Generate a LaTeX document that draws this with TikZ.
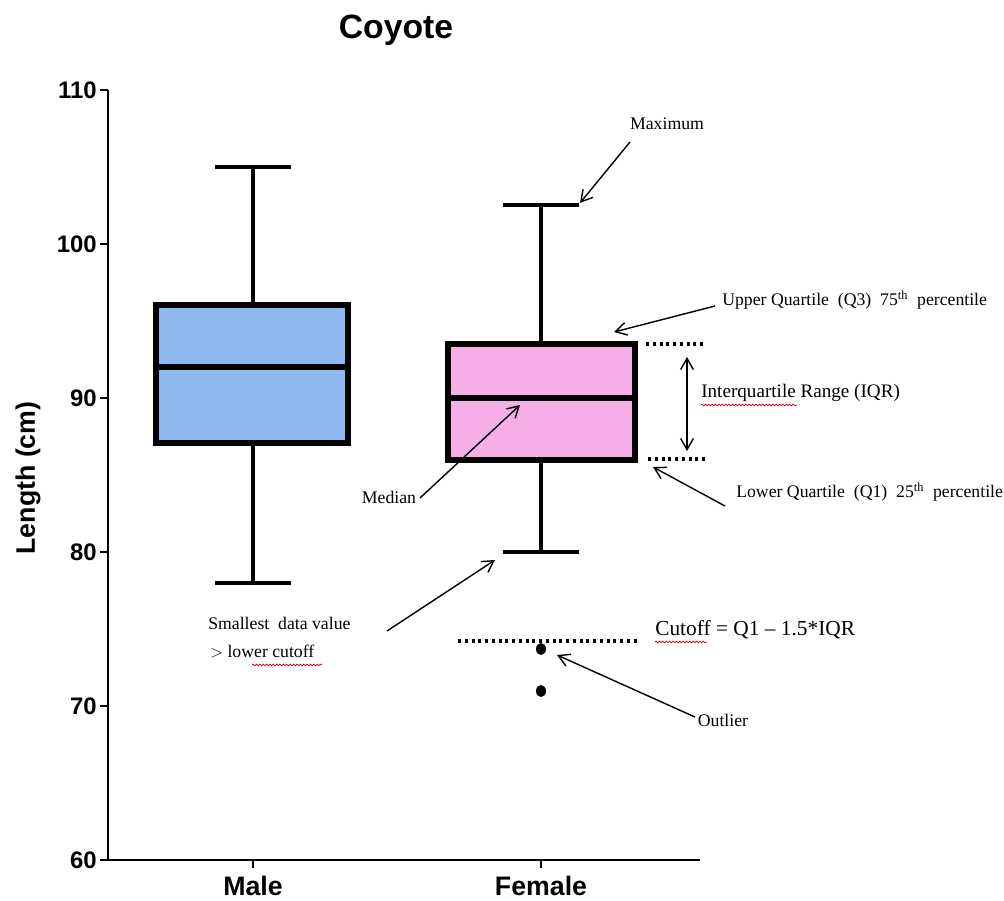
\documentclass[tikz,border=0pt]{standalone}
\usepackage{fontspec}
\setmainfont{Liberation Serif}
\setsansfont{Liberation Sans}
\usetikzlibrary{arrows.meta, decorations.pathmorphing}
\definecolor{maleblue}{RGB}{141, 184, 240}
\definecolor{femalepink}{RGB}{245, 174, 230}

\begin{document}
\begin{tikzpicture}[x=0.025cm, y=-0.025cm,
    box/.style={line width=3.6pt},
    whisker/.style={line width=3.2pt},
    axisline/.style={line width=2pt},
    ticklabel/.style={font=\sffamily\bfseries\fontsize{17}{17}\selectfont, anchor=east, inner sep=0pt},
    grouplabel/.style={font=\sffamily\bfseries\fontsize{19}{19}\selectfont, inner sep=0pt},
    note/.style={font=\fontsize{12.6}{14}\selectfont, inner sep=0pt},
    pointer/.style={-{Straight Barb[length=2.8mm, width=3.2mm]}, line width=1pt},
    cutline/.style={line width=2.4pt, dash pattern=on 2.2pt off 2.6pt},
    squiggle/.style={red!80!black, line width=0.5pt, decorate,
                     decoration={snake, amplitude=0.6pt, segment length=2.4pt}},
]
    \useasboundingbox (0,0) rectangle (1004,900);

    % Titel und Achsen
    \node[font=\sffamily\bfseries\fontsize{24}{24}\selectfont] (title) at (396,30) {Coyote};
    \node[font=\sffamily\bfseries\fontsize{19}{19}\selectfont, rotate=90] (ylabel) at (28,478) {Length (cm)};

    \draw[axisline] (108,90) -- (108,860) -- (700,860);
    \foreach \val/\ypos in {110/90, 100/244, 90/398, 80/552, 70/706, 60/860} {
        \draw[axisline] (100,\ypos) -- (108,\ypos);
        \node[ticklabel] at (97,\ypos) {\val};
    }
    \draw[axisline] (253,860) -- (253,868);
    \draw[axisline] (541,860) -- (541,868);
    \node[grouplabel] (male) at (253,886) {Male};
    \node[grouplabel] (female) at (541,886) {Female};

    % Male
    \draw[whisker] (253,167) -- (253,305);
    \draw[whisker] (253,443) -- (253,583);
    \draw[whisker] (215,167) -- (291,167);
    \draw[whisker] (215,583) -- (291,583);
    \draw[box, fill=maleblue] (156,305) rectangle (348,443);
    \draw[box] (156,367) -- (348,367);

    % Female
    \draw[whisker] (541,205) -- (541,344);
    \draw[whisker] (541,460) -- (541,552);
    \draw[whisker] (503,205) -- (579,205);
    \draw[whisker] (503,552) -- (579,552);
    \draw[box, fill=femalepink] (448,344) rectangle (635,460);
    \draw[box] (448,398) -- (635,398);
    \fill (541,649) ellipse (5 and 6);
    \fill (541,691) ellipse (5 and 6);

    % Hilfslinien
    \draw[cutline] (646,344) -- (706,344);
    \draw[cutline] (648,459) -- (708,459);
    \draw[cutline] (458,641) -- (637,641);
    \draw[{Straight Barb[length=2.8mm, width=3.2mm]}-{Straight Barb[length=2.8mm, width=3.2mm]}, line width=1pt]
        (687,357) -- (687,451);

    % Beschriftungen
    \node[note] (maxlbl) at (667,124) {Maximum};
    \node[note, anchor=west] (q3lbl) at (722,300) {Upper Quartile\ \ (Q3)\ \ 75\textsuperscript{th}\ \ percentile};
    \node[note, anchor=west, font=\fontsize{13.6}{15}\selectfont] (iqrlbl) at (701,393) {Interquartile Range (IQR)};
    \node[note, anchor=west] (q1lbl) at (736,492) {Lower Quartile\ \ (Q1)\ \ 25\textsuperscript{th}\ \ percentile};
    \node[note] (medlbl) at (389,497) {Median};
    \node[note, anchor=west] (minlbl) at (208,623) {Smallest\ \ data value};
    \node[note, anchor=west] (cutlbl2) at (210,651) {$>$ lower cutoff};
    \node[note, anchor=west, font=\fontsize{15.2}{17}\selectfont] (cutlbl) at (655,630) {Cutoff = Q1 -- 1.5*IQR};
    \node[note] (outlbl) at (723,720) {Outlier};

    \draw[squiggle] (701,405) -- (797,405);
    \draw[squiggle] (252,665) -- (322,665);
    \draw[squiggle] (655,642) -- (707,642);

    % Pfeile
    \coordinate (maxtail) at (630,142);
    \coordinate (maxhead) at (580,203);
    \coordinate (q3tail) at (715,306);
    \coordinate (q3head) at (614,332);
    \coordinate (q1tail) at (725,506);
    \coordinate (q1head) at (653,467);
    \coordinate (medtail) at (420,498);
    \coordinate (medhead) at (520,405);
    \coordinate (mintail) at (387,631);
    \coordinate (minhead) at (495,560);
    \coordinate (outtail) at (695,717);
    \coordinate (outhead) at (557,655);

    \draw[pointer] (maxtail) -- (maxhead);
    \draw[pointer] (q3tail) -- (q3head);
    \draw[pointer] (q1tail) -- (q1head);
    \draw[pointer] (medtail) -- (medhead);
    \draw[pointer] (mintail) -- (minhead);
    \draw[pointer] (outtail) -- (outhead);
\end{tikzpicture}
\end{document}
